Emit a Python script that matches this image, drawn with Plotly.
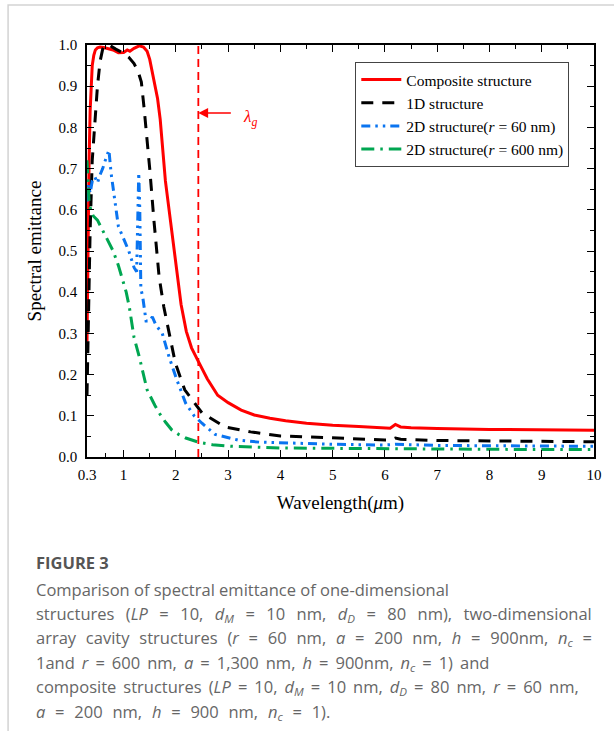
import plotly.graph_objects as go

# ---------------- data ----------------
red_x = [0.30, 0.32, 0.34, 0.36, 0.38, 0.40, 0.43, 0.46, 0.50, 0.55, 0.62, 0.70, 0.80, 0.90, 1.00, 1.07,
         1.12, 1.20, 1.30, 1.38, 1.45, 1.50, 1.55, 1.60, 1.65, 1.70, 1.75, 1.80, 1.90, 2.00, 2.10, 2.20,
         2.30, 2.43, 2.60, 2.80, 3.00, 3.25, 3.50, 3.80, 4.10, 4.50, 5.00, 5.50, 6.00, 6.10, 6.20, 6.30,
         6.50, 7.00, 8.00, 9.00, 10.00]
red_y = [0.28, 0.55, 0.72, 0.84, 0.91, 0.95, 0.975, 0.988, 0.993, 0.995, 0.994, 0.992, 0.988, 0.981, 0.982, 0.988,
         0.985, 0.992, 0.998, 0.995, 0.985, 0.965, 0.935, 0.90, 0.87, 0.82, 0.74, 0.67, 0.57, 0.475, 0.37, 0.305,
         0.265, 0.232, 0.19, 0.15, 0.132, 0.114, 0.102, 0.094, 0.088, 0.082, 0.077, 0.074, 0.071, 0.070, 0.079, 0.073,
         0.071, 0.069, 0.067, 0.066, 0.065]

black_x = [0.30, 0.33, 0.36, 0.40, 0.45, 0.50, 0.55, 0.60, 0.65, 0.75, 0.85, 1.00, 1.10, 1.20, 1.28, 1.34,
           1.39, 1.45, 1.50, 1.58, 1.68, 1.77, 1.87, 1.99, 2.17, 2.50, 2.94, 3.43, 4.00, 4.50, 5.30, 6.00,
           6.10, 6.20, 6.30, 7.00, 8.00, 9.00, 10.00]
black_y = [0.15, 0.35, 0.55, 0.72, 0.82, 0.90, 0.96, 0.99, 1.00, 0.998, 0.99, 0.98, 0.97, 0.955, 0.935, 0.91,
           0.85, 0.77, 0.70, 0.575, 0.437, 0.364, 0.30, 0.228, 0.163, 0.107, 0.073, 0.061, 0.051, 0.048, 0.045, 0.041,
           0.041, 0.046, 0.043, 0.040, 0.039, 0.038, 0.037]

blue_x = [0.30, 0.33, 0.36, 0.40, 0.45, 0.50, 0.55, 0.60, 0.65, 0.70, 0.72, 0.76, 0.80, 0.85, 0.90, 1.00,
          1.10, 1.20, 1.25, 1.29, 1.31, 1.33, 1.37, 1.43, 1.50, 1.55, 1.62, 1.74, 1.87, 2.02, 2.19, 2.35,
          2.50, 2.75, 3.19, 3.60, 4.13, 5.00, 6.00, 6.20, 7.00, 8.00, 9.00, 10.00]
blue_y = [0.62, 0.66, 0.64, 0.67, 0.68, 0.665, 0.685, 0.70, 0.72, 0.74, 0.745, 0.69, 0.65, 0.60, 0.56, 0.53,
          0.50, 0.46, 0.45, 0.69, 0.60, 0.41, 0.385, 0.33, 0.33, 0.34, 0.32, 0.30, 0.243, 0.187, 0.13, 0.10,
          0.082, 0.055, 0.041, 0.036, 0.034, 0.031, 0.029, 0.031, 0.028, 0.027, 0.026, 0.026]

green_x = [0.30, 0.32, 0.34, 0.37, 0.42, 0.50, 0.60, 0.70, 0.80, 0.90, 1.00, 1.05, 1.11, 1.20, 1.30, 1.45,
           1.60, 1.68, 1.80, 1.92, 2.05, 2.19, 2.43, 2.70, 3.05, 3.50, 4.00, 5.00, 6.00, 7.00, 8.00, 9.00, 10.00]
green_y = [0.72, 0.66, 0.62, 0.60, 0.585, 0.575, 0.55, 0.525, 0.50, 0.465, 0.425, 0.40, 0.364, 0.29, 0.243, 0.163,
           0.125, 0.107, 0.085, 0.066, 0.055, 0.046, 0.036, 0.030, 0.026, 0.024, 0.022, 0.021, 0.020, 0.020, 0.019, 0.018, 0.018]

series_names = ["Composite structure", "1D structure",
                "2D structure(<i>r</i> = 60 nm)", "2D structure(<i>r</i> = 600 nm)"]

x_tickvals = [0.3, 1, 2, 3, 4, 5, 6, 7, 8, 9, 10]
x_ticktext = ["0.3", "1", "2", "3", "4", "5", "6", "7", "8", "9", "10"]
x_minor = [0.65, 1.5, 2.5, 3.5, 4.5, 5.5, 6.5, 7.5, 8.5, 9.5]
y_tickvals = [0.0, 0.1, 0.2, 0.3, 0.4, 0.5, 0.6, 0.7, 0.8, 0.9, 1.0]
y_ticktext = ["0.0", "0.1", "0.2", "0.3", "0.4", "0.5", "0.6", "0.7", "0.8", "0.9", "1.0"]
y_minor = [0.05, 0.15, 0.25, 0.35, 0.45, 0.55, 0.65, 0.75, 0.85, 0.95]
lambda_g = 2.43

caption_title = "FIGURE 3"
caption_lines = [
    "Comparison of spectral emittance of one-dimensional",
    "structures (<i>LP</i> = 10, <i>d</i><sub><i>M</i></sub> = 10 nm, <i>d</i><sub><i>D</i></sub> = 80 nm), two-dimensional",
    "array cavity structures (<i>r</i> = 60 nm, <i>a</i> = 200 nm, <i>h</i> = 900nm, <i>n</i><sub><i>c</i></sub> =",
    "1and <i>r</i> = 600 nm, <i>a</i> = 1,300 nm, <i>h</i> = 900nm, <i>n</i><sub><i>c</i></sub> = 1) and",
    "composite structures (<i>LP</i> = 10, <i>d</i><sub><i>M</i></sub> = 10 nm, <i>d</i><sub><i>D</i></sub> = 80 nm, <i>r</i> = 60 nm,",
    "<i>a</i> = 200 nm, <i>h</i> = 900 nm, <i>n</i><sub><i>c</i></sub> = 1).",
]
# word-gap used per caption line to mimic the justified typesetting
caption_gaps = [" ", " \u2004\u200a", " \u2004", " \u2009", " \u2009", " \u2004"]

# ---------------- layout helpers ----------------
W, H = 614, 731
L, R, T, B = 87, 601, 45, 457
def px(X):
    return (X - L) / (R - L)
def py(Y):
    return (B - Y) / (B - T)

SERIF = "Liberation Serif, Times New Roman, serif"
SANS = "Open Sans, sans-serif"
fig = go.Figure()

fig.add_trace(go.Scatter(x=red_x, y=red_y, mode="lines", name=series_names[0],
                         line=dict(color="#ff0000", width=3)))
fig.add_trace(go.Scatter(x=black_x, y=black_y, mode="lines", name=series_names[1],
                         line=dict(color="#000000", width=3, dash="12px,9px")))
fig.add_trace(go.Scatter(x=blue_x, y=blue_y, mode="lines", name=series_names[2],
                         line=dict(color="#0a74f0", width=3, dash="9px,5px,2.5px,5px,2.5px,5px")))
fig.add_trace(go.Scatter(x=green_x, y=green_y, mode="lines", name=series_names[3],
                         line=dict(color="#00a651", width=3, dash="13px,6px,2.5px,6px")))

# vertical dashed lambda_g line
fig.add_shape(type="line", xref="x", yref="paper", x0=lambda_g, x1=lambda_g, y0=0, y1=1,
              line=dict(color="#ff0000", width=1.8, dash="8px,5px"))

# arrow pointing at lambda_g
fig.add_annotation(x=lambda_g, y=py(113), xref="x", yref="paper", ax=34, ay=0,
                   text="", showarrow=True, arrowhead=2, arrowsize=1.4, arrowwidth=1.4,
                   arrowcolor="#ff0000")
fig.add_annotation(x=px(243), y=py(105), xref="paper", yref="paper", showarrow=False,
                   xanchor="left",
                   text="<i>λ</i><sub><i>g</i></sub>", font=dict(family=SERIF, size=17, color="#ff0000"))

# outer frame
fig.add_shape(type="rect", xref="paper", yref="paper", x0=px(7), x1=px(650), y0=py(5), y1=py(800),
              line=dict(color="#d3d3d3", width=1.5), fillcolor="rgba(0,0,0,0)", layer="below")

# caption
fig.add_annotation(x=px(33), y=py(562), xref="paper", yref="paper", xanchor="left", yanchor="middle",
                   showarrow=False, text="<b>" + caption_title + "</b>",
                   font=dict(family=SANS, size=16.5, color="#555555"))
for i, line in enumerate(caption_lines):
    txt = line.replace(" ", caption_gaps[i])
    fig.add_annotation(x=px(33), y=py(589 + i * 24.6), xref="paper", yref="paper",
                       xanchor="left", yanchor="middle", showarrow=False, text=txt,
                       font=dict(family=SANS, size=16.5, color="#666666"))

axis_common = dict(showline=True, linecolor="black", linewidth=1.5, mirror="allticks",
                   ticks="inside", ticklen=7, tickwidth=1.3, tickcolor="black",
                   showgrid=False, zeroline=False,
                   tickfont=dict(family=SERIF, size=15, color="black"))

fig.update_xaxes(range=[0.3, 10], tickmode="array", tickvals=x_tickvals, ticktext=x_ticktext,
                 ticklabelstandoff=3,
                 minor=dict(tickmode="array", tickvals=x_minor, ticks="inside", ticklen=4,
                            tickwidth=1.3, tickcolor="black", showgrid=False),
                 title=dict(text="Wavelength(<i>μ</i>m)", font=dict(family=SERIF, size=19, color="black"),
                            standoff=14),
                 **axis_common)
fig.update_yaxes(range=[0, 1], tickmode="array", tickvals=y_tickvals, ticktext=y_ticktext,
                 ticklabelstandoff=5,
                 minor=dict(tickmode="array", tickvals=y_minor, ticks="inside", ticklen=4,
                            tickwidth=1.3, tickcolor="black", showgrid=False),
                 title=dict(text="Spectral emittance", font=dict(family=SERIF, size=19, color="black"),
                            standoff=12),
                 **axis_common)

fig.update_layout(
    width=W, height=H,
    margin=dict(l=L, r=W - R, t=T, b=H - B, pad=0),
    paper_bgcolor="white", plot_bgcolor="white",
    showlegend=True,
    legend=dict(x=px(359), y=py(62), xanchor="left", yanchor="top",
                bgcolor="white", bordercolor="#444444", borderwidth=1,
                font=dict(family=SERIF, size=15.5, color="black"),
                tracegroupgap=0, itemwidth=40),
)

fig.write_html("out.html", config={"displayModeBar": False},
               post_script="document.body.style.margin='0px';")
